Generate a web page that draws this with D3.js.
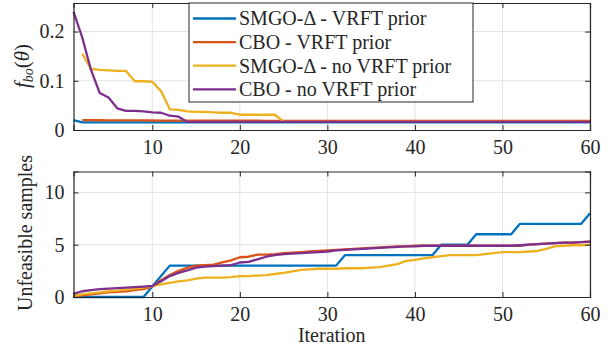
<!DOCTYPE html>
<html>
<head>
<meta charset="utf-8">
<script src="https://cdn.jsdelivr.net/npm/d3@7"></script>
<style>
  body { margin: 0; background: #fff; }
</style>
</head>
<body>
<div id="chart"></div>
<script>
'use strict'

////////////////////////////////////
/////////////// data ///////////////
////////////////////////////////////

const iterations = d3.range(1, 61)

const seriesNames = ['SMGO-\u0394 - VRFT prior', 'CBO - VRFT prior', 'SMGO-\u0394 - no VRFT prior', 'CBO - no VRFT prior']
const seriesColors = ['#0072BD', '#D95319', '#EDB120', '#7E2F8E']

// top panel: f_bo(theta)
const fboSmgoVrft = [0.020, 0.0155, 0.0155, 0.0155, 0.0155, 0.0155, 0.0155, 0.0155, 0.0155, 0.0155,
  0.0155, 0.0155, 0.0155, 0.0155, 0.0155, 0.0155, 0.0155, 0.0155, 0.0155, 0.0155,
  0.0155, 0.0155, 0.0155, 0.0155, 0.0155, 0.0155, 0.0155, 0.0155, 0.0155, 0.0155,
  0.0155, 0.0155, 0.0155, 0.0155, 0.0155, 0.0155, 0.0155, 0.0155, 0.0155, 0.0155,
  0.0155, 0.0155, 0.0155, 0.0155, 0.0155, 0.0155, 0.0155, 0.0155, 0.0155, 0.0155,
  0.0155, 0.0155, 0.0155, 0.0155, 0.0155, 0.0155, 0.0155, 0.0155, 0.0155, 0.0155]
const fboCboVrft = [null, 0.0200, 0.0199, 0.0198, 0.0197, 0.0196, 0.0195, 0.0195, 0.0194, 0.0193,
  0.0192, 0.0192, 0.0191, 0.0190, 0.0190, 0.0189, 0.0189, 0.0189, 0.0188, 0.0188,
  0.0188, 0.0188, 0.0187, 0.0187, 0.0187, 0.0187, 0.0187, 0.0186, 0.0186, 0.0186,
  0.0186, 0.0186, 0.0186, 0.0186, 0.0185, 0.0185, 0.0185, 0.0185, 0.0185, 0.0185,
  0.0185, 0.0185, 0.0185, 0.0185, 0.0185, 0.0185, 0.0185, 0.0185, 0.0185, 0.0185,
  0.0185, 0.0185, 0.0185, 0.0185, 0.0185, 0.0185, 0.0185, 0.0185, 0.0185, 0.0185]
const fboSmgoNoVrft = [null, 0.155, 0.124, 0.122, 0.121, 0.120, 0.120, 0.099, 0.099, 0.098,
  0.079, 0.042, 0.041, 0.038, 0.037, 0.037, 0.036, 0.035, 0.035, 0.031,
  0.031, 0.031, 0.031, 0.031, 0.017, 0.0165, 0.0165, 0.0165, 0.0165, 0.0165,
  0.0165, 0.0165, 0.0165, 0.0165, 0.0165, 0.0165, 0.0165, 0.0165, 0.0165, 0.0165,
  0.0165, 0.0165, 0.0165, 0.0165, 0.0165, 0.0165, 0.0165, 0.0165, 0.0165, 0.0165,
  0.0165, 0.0165, 0.0165, 0.0165, 0.0165, 0.0165, 0.0165, 0.0165, 0.0165, 0.0165]
const fboCboNoVrft = [0.240, 0.188, 0.122, 0.075, 0.066, 0.044, 0.039, 0.039, 0.038, 0.036,
  0.035, 0.029, 0.027, 0.0165, 0.0165, 0.0165, 0.0165, 0.0165, 0.0165, 0.0165,
  0.0165, 0.0165, 0.0165, 0.0165, 0.0165, 0.0165, 0.0165, 0.0165, 0.0165, 0.0165,
  0.0165, 0.0165, 0.0165, 0.0165, 0.0165, 0.0165, 0.0165, 0.0165, 0.0165, 0.0165,
  0.0165, 0.0165, 0.0165, 0.0165, 0.0165, 0.0165, 0.0165, 0.0165, 0.0165, 0.0165,
  0.0165, 0.0165, 0.0165, 0.0165, 0.0165, 0.0165, 0.0165, 0.0165, 0.0165, 0.0165]

// bottom panel: unfeasible samples
const unfSmgoVrft = [0, 0, 0, 0, 0, 0, 0, 0, 0, 1,
  2, 3, 3, 3, 3, 3, 3, 3, 3, 3,
  3, 3, 3, 3, 3, 3, 3, 3, 3, 3,
  3, 4, 4, 4, 4, 4, 4, 4, 4, 4,
  4, 4, 5, 5, 5, 5, 6, 6, 6, 6,
  6, 7, 7, 7, 7, 7, 7, 7, 7, 8]
const unfCboVrft = [0.05, 0.15, 0.25, 0.35, 0.45, 0.5, 0.55, 0.65, 0.75, 1.0,
  1.6, 2.1, 2.5, 2.8, 3.0, 3.05, 3.1, 3.3, 3.5, 3.8,
  3.85, 4.05, 4.05, 4.1, 4.2, 4.25, 4.3, 4.35, 4.4, 4.45,
  4.5, 4.55, 4.6, 4.65, 4.7, 4.75, 4.8, 4.85, 4.85, 4.9,
  4.9, 4.9, 4.9, 4.9, 4.9, 4.9, 4.9, 4.9, 4.9, 4.9,
  4.9, 4.9, 5.0, 5.05, 5.1, 5.15, 5.2, 5.2, 5.25, 5.3]
const unfSmgoNoVrft = [0.1, 0.25, 0.35, 0.45, 0.55, 0.6, 0.7, 0.8, 0.9, 1.05,
  1.2, 1.35, 1.5, 1.6, 1.75, 1.85, 1.85, 1.85, 1.9, 2.0,
  2.0, 2.05, 2.1, 2.2, 2.3, 2.45, 2.6, 2.65, 2.7, 2.7,
  2.7, 2.75, 2.75, 2.75, 2.8, 2.85, 3.0, 3.15, 3.45, 3.55,
  3.7, 3.8, 3.9, 4.0, 4.0, 4.0, 4.0, 4.1, 4.2, 4.3,
  4.3, 4.3, 4.35, 4.4, 4.6, 4.85, 4.9, 4.95, 4.95, 5.0]
const unfCboNoVrft = [0.3, 0.55, 0.65, 0.75, 0.8, 0.85, 0.9, 0.95, 1.0, 1.05,
  1.5, 2.0, 2.3, 2.55, 2.8, 2.9, 2.95, 3.0, 3.05, 3.3,
  3.35, 3.6, 3.85, 4.0, 4.1, 4.15, 4.2, 4.25, 4.3, 4.35,
  4.45, 4.5, 4.55, 4.6, 4.65, 4.7, 4.75, 4.8, 4.85, 4.85,
  4.9, 4.9, 4.9, 4.9, 4.9, 4.9, 4.9, 4.9, 4.9, 4.9,
  4.9, 4.95, 5.0, 5.05, 5.1, 5.15, 5.2, 5.2, 5.25, 5.3]

const xTicks = [10, 20, 30, 40, 50, 60]
const topYTicks = [0, 0.1, 0.2]
const topYLabels = ['0', '0.1', '0.2']
const bottomYTicks = [0, 5, 10]

////////////////////////////////////
//////////// svg setup /////////////
////////////////////////////////////

const svgWidth = 616
const svgHeight = 356
const fontFamily = 'Liberation Serif'

const svg = d3.select('#chart').append('svg')
    .attr('width', svgWidth)
    .attr('height', svgHeight)
    .attr('font-family', fontFamily)

const plotLeft = 73.5
const plotRight = 590
const fontSize = 20
const axisColor = '#262626'
const gridColor = '#e3e3e3'
const tickLen = 5
const lineWidth = 2.3

const xScale = d3.scaleLinear()
    .domain([1, 60])
    .range([plotLeft, plotRight])

const topY = d3.scaleLinear()
    .domain([0, 0.258])
    .range([130, 3])

const bottomY = d3.scaleLinear()
    .domain([0, 12])
    .range([297, 171.5])

const line = (yScale) => d3.line()
    .defined(d => d.y !== null)
    .x(d => xScale(d.x))
    .y(d => yScale(d.y))

function drawPanel(yScale, yTicks, yLabels, series) {
    const [y0, y1] = yScale.range()
    const g = svg.append('g')

    // grid
    g.selectAll('.gx').data(xTicks).join('line')
        .attr('x1', d => xScale(d)).attr('x2', d => xScale(d))
        .attr('y1', y0).attr('y2', y1)
        .attr('stroke', gridColor).attr('stroke-width', 1)
    g.selectAll('.gy').data(yTicks.filter(d => d > 0)).join('line')
        .attr('x1', plotLeft).attr('x2', plotRight)
        .attr('y1', d => yScale(d)).attr('y2', d => yScale(d))
        .attr('stroke', gridColor).attr('stroke-width', 1)

    // lines
    series.forEach((vals, i) => {
        g.append('path')
            .datum(vals.map((v, j) => ({x: iterations[j], y: v})))
            .attr('fill', 'none')
            .attr('stroke', seriesColors[i])
            .attr('stroke-width', lineWidth)
            .attr('stroke-linejoin', 'round')
            .attr('d', line(yScale))
    })

    // axes (box with inward ticks)
    const bottomAxis = d3.axisBottom(xScale).tickValues(xTicks).tickSize(-tickLen).tickPadding(10).tickFormat(d3.format('d'))
    const topAxis = d3.axisTop(xScale).tickValues(xTicks).tickSize(-tickLen).tickFormat('')
    const leftAxis = d3.axisLeft(yScale).tickValues(yTicks).tickSize(-tickLen).tickPadding(9)
        .tickFormat((d, i) => yLabels ? yLabels[i] : d)
    const rightAxis = d3.axisRight(yScale).tickValues(yTicks).tickSize(-tickLen).tickFormat('')

    const axes = [
        g.append('g').attr('transform', `translate(0,${y0})`).call(bottomAxis),
        g.append('g').attr('transform', `translate(0,${y1})`).call(topAxis),
        g.append('g').attr('transform', `translate(${plotLeft},0)`).call(leftAxis),
        g.append('g').attr('transform', `translate(${plotRight},0)`).call(rightAxis)
    ]
    axes.forEach(a => {
        a.attr('font-family', fontFamily).attr('font-size', fontSize)
        a.select('.domain').attr('stroke', axisColor).attr('stroke-width', 1.2)
        a.selectAll('.tick line').attr('stroke', axisColor).attr('stroke-width', 1)
        a.selectAll('.tick text').attr('fill', axisColor)
    })
    return g
}

drawPanel(topY, topYTicks, topYLabels, [fboSmgoVrft, fboCboVrft, fboSmgoNoVrft, fboCboNoVrft])
drawPanel(bottomY, bottomYTicks, null, [unfSmgoVrft, unfCboVrft, unfSmgoNoVrft, unfCboNoVrft])

////////////////////////////////////
////////////// labels //////////////
////////////////////////////////////

const fLabel = svg.append('text')
    .attr('transform', 'translate(29,66) rotate(-90)')
    .attr('text-anchor', 'middle')
    .attr('fill', axisColor)
    .attr('font-size', 21)
fLabel.append('tspan').attr('font-style', 'italic').text('f')
fLabel.append('tspan').attr('font-style', 'italic').attr('dy', 4).attr('font-size', 14).text('bo')
fLabel.append('tspan').attr('dy', -4).text('(')
fLabel.append('tspan').attr('font-style', 'italic').text('\u03b8')
fLabel.append('tspan').text(')')

svg.append('text')
    .attr('transform', 'translate(32,233) rotate(-90)')
    .attr('text-anchor', 'middle')
    .attr('fill', axisColor)
    .attr('font-size', fontSize)
    .text('Unfeasible samples')

svg.append('text')
    .attr('x', xScale(30.5))
    .attr('y', 342)
    .attr('text-anchor', 'middle')
    .attr('fill', axisColor)
    .attr('font-size', fontSize)
    .text('Iteration')

////////////////////////////////////
////////////// legend //////////////
////////////////////////////////////

const legend = svg.append('g').attr('transform', 'translate(189,3)')
legend.append('rect')
    .attr('width', 284).attr('height', 99)
    .attr('fill', '#fff').attr('stroke', axisColor).attr('stroke-width', 1)

const rows = legend.selectAll('.row').data(seriesNames).join('g')
    .attr('transform', (d, i) => `translate(0,${15.5 + i * 23.6})`)
rows.append('line')
    .attr('x1', 4).attr('x2', 47)
    .attr('stroke', (d, i) => seriesColors[i])
    .attr('stroke-width', lineWidth)
rows.append('text')
    .attr('x', 50)
    .attr('dy', '0.34em')
    .attr('fill', axisColor)
    .attr('font-size', fontSize)
    .text(d => d)
</script>
</body>
</html>
